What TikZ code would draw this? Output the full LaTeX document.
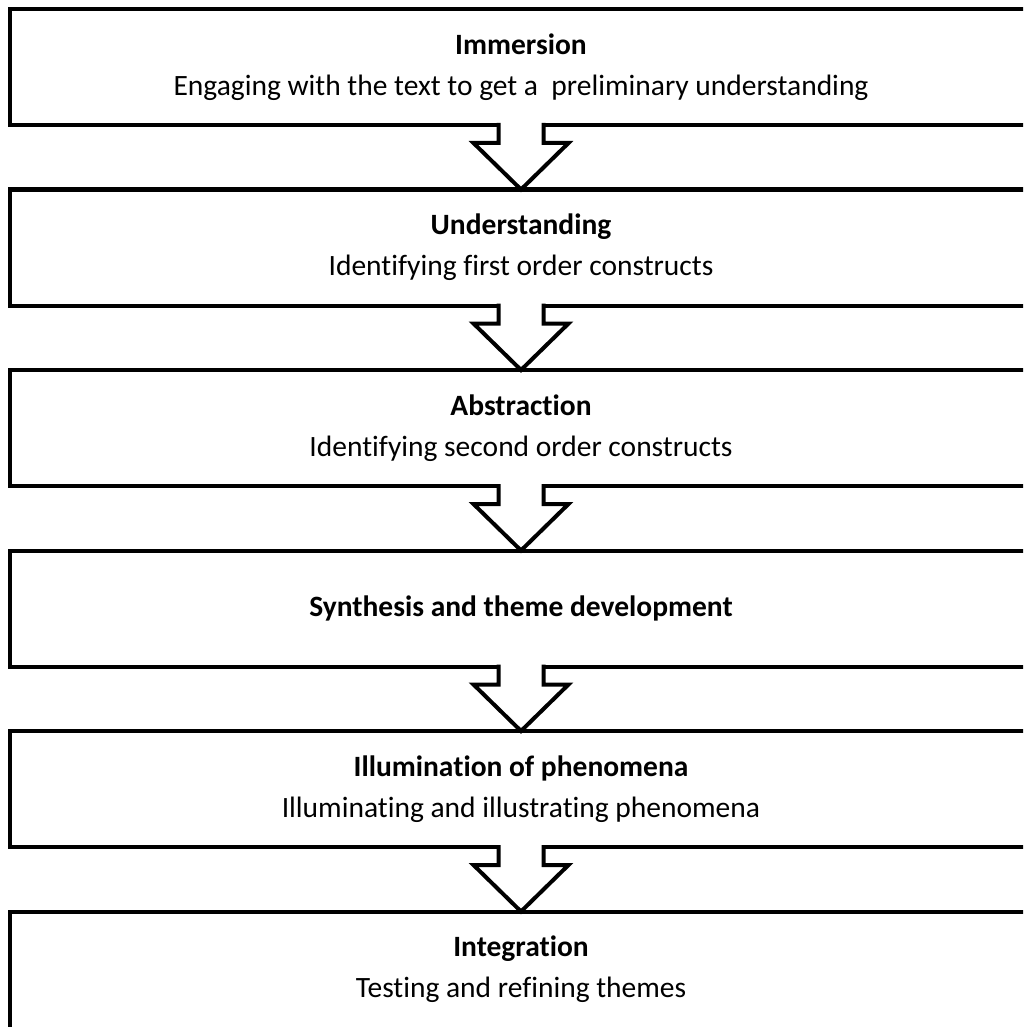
\documentclass[tikz,border=0pt]{standalone}
\usepackage{fontspec}
\setmainfont{Carlito}[Ligatures=CommonOff]
\usetikzlibrary{calc}
\begin{document}
\begin{tikzpicture}[x=1pt,y=1pt,
  stagetext/.style={inner sep=0pt,outer sep=0pt,align=center,
    font=\fontsize{29.5}{41}\selectfont},
  stage/.style={stagetext,draw=black,line width=4pt,minimum width=1022pt,minimum height=116pt,fill=white},
  flow/.style={draw=black,line width=4pt,line join=miter}]
\useasboundingbox (0,0) rectangle (1023,-1027);
\clip (0,0) rectangle (1023,-1027);
\node[stage] (b1) at (521,-67) {\textbf{Immersion}\\Engaging with the text to get a\ \ preliminary understanding};
\node[stage] (b2) at (521,-247.5) {\textbf{Understanding}\\Identifying first order constructs};
\node[stage] (b3) at (521,-428) {\textbf{Abstraction}\\Identifying second order constructs};
\node[stage] (b4) at (521,-608.5) {\textbf{Synthesis and theme development}};
\node[stage] (b5) at (521,-789) {\textbf{Illumination of phenomena}\\Illuminating and illustrating phenomena};
\node[stage,minimum height=140pt,anchor=north] (b6) at (521,-911.5) {};
\node[stagetext] (t6) at (521,-969.5) {\textbf{Integration}\\Testing and refining themes};
\foreach \a/\b in {b1/b2,b2/b3,b3/b4,b4/b5,b5/b6}{
  \fill[white] ($(\a.south)+(-22.5,2.5)$) -- ($(\a.south)+(-22.5,-18)$) -- ($(\a.south)+(-47.5,-18)$)
    -- (\b.north) -- ($(\a.south)+(47.5,-18)$) -- ($(\a.south)+(22.5,-18)$) -- ($(\a.south)+(22.5,2.5)$) -- cycle;
  \draw[flow] ($(\a.south)+(-22.5,2)$) -- ($(\a.south)+(-22.5,-18)$) -- ($(\a.south)+(-47.5,-18)$)
    -- (\b.north) -- ($(\a.south)+(47.5,-18)$) -- ($(\a.south)+(22.5,-18)$) -- ($(\a.south)+(22.5,2)$);
}
\end{tikzpicture}
\end{document}
